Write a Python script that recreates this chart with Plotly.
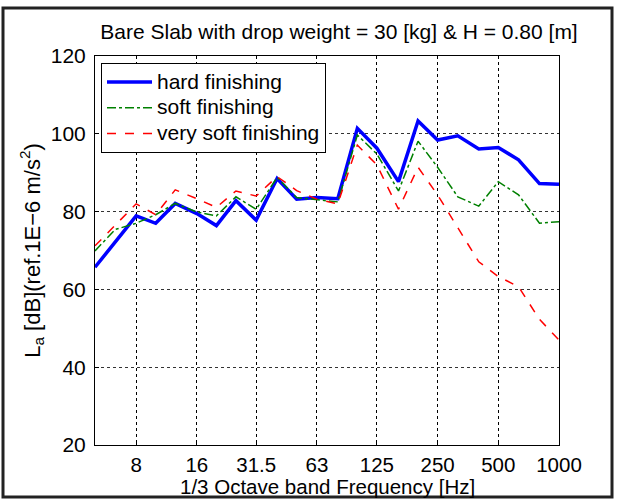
import plotly.graph_objects as go

freqs = [5, 6.3, 8, 10, 12.5, 16, 20, 25, 31.5, 40, 50, 63, 80, 100, 125, 160,
         200, 250, 315, 400, 500, 630, 800, 1000]
hard = [65.7, 72.3, 78.9, 77.0, 82.1, 79.5, 76.4, 82.8, 77.8, 88.5, 83.2, 83.6,
        83.3, 101.4, 96.3, 87.7, 103.3, 98.4, 99.5, 96.1, 96.5, 93.3, 87.2, 87.0]
soft = [69.9, 75.4, 77.0, 79.2, 82.1, 79.9, 78.9, 83.8, 80.6, 88.8, 83.6, 83.0,
        82.5, 99.7, 94.8, 85.3, 98.1, 91.4, 83.8, 81.4, 87.7, 84.3, 77.0, 77.4]
very_soft = [71.2, 76.5, 82.0, 79.2, 85.6, 83.3, 81.1, 85.3, 84.0, 89.0, 85.4, 83.2,
             82.0, 97.1, 92.0, 80.6, 91.4, 84.3, 75.7, 67.1, 63.3, 60.7, 52.3, 47.0]
series_names = ["hard finishing", "soft finishing", "very soft finishing"]
tick_vals = [8, 16, 31.5, 63, 125, 250, 500, 1000]
tick_text = ["8", "16", "31.5", "63", "125", "250", "500", "1000"]
y_ticks = [20, 40, 60, 80, 100, 120]

FONT = "Liberation Sans, Arial, Helvetica, sans-serif"
LEG_FS = 21


def leg_name(s):
    return '<span style="font-size:%dpx">%s</span>' % (LEG_FS, s)


fig = go.Figure()
fig.add_trace(go.Scatter(x=freqs, y=hard, mode="lines", name=leg_name(series_names[0]),
                         line=dict(color="#0000ff", width=3.5)))
fig.add_trace(go.Scatter(x=freqs, y=soft, mode="lines", name=leg_name(series_names[1]),
                         line=dict(color="#008000", width=1.5, dash="dashdot")))
fig.add_trace(go.Scatter(x=freqs, y=very_soft, mode="lines", name=leg_name(series_names[2]),
                         line=dict(color="#ff0000", width=1.5, dash="dash")))

W, H = 617, 499
L, R, T, B = 95, 58, 56, 54
pw, ph = W - L - R, H - T - B


def px(xp):
    return (xp - L) / pw


def py(yp):
    return (H - B - yp) / ph


fig.update_layout(
    width=W, height=H,
    margin=dict(l=L, r=R, t=T, b=B),
    paper_bgcolor="white", plot_bgcolor="white",
    font=dict(family=FONT, size=21, color="black"),
    title=dict(text="Bare Slab with drop weight = 30 [kg] & H = 0.80 [m]",
               x=px(339), xref="paper", xanchor="center",
               y=1 - 32 / H, yref="container", yanchor="middle",
               font=dict(size=21)),
    showlegend=True,
    legend=dict(x=px(101), y=py(63), xanchor="left", yanchor="top",
                bgcolor="white", bordercolor="black", borderwidth=1,
                font=dict(size=17.5), itemwidth=45, tracegroupgap=0),
    xaxis=dict(type="log", range=[0.69897, 3.0], tickvals=tick_vals, ticktext=tick_text,
               showgrid=True, gridcolor="black", griddash="dot", gridwidth=1,
               showline=True, linecolor="black", linewidth=1, mirror=True,
               ticks="inside", ticklen=4, tickcolor="black", zeroline=False,
               ticklabelstandoff=1, tickfont=dict(size=20.5)),
    yaxis=dict(range=[20, 120], tickvals=y_ticks,
               showgrid=True, gridcolor="#333", griddash="dot", gridwidth=1,
               showline=True, linecolor="black", linewidth=1, mirror=True,
               ticks="inside", ticklen=4, tickcolor="black", zeroline=False,
               ticklabelstandoff=4,
               title=dict(text="L<sub>a</sub> [dB](ref.1E\u22126 m/s<sup>2</sup>)", standoff=4,
                          font=dict(size=22))),
    annotations=[dict(text="1/3 Octave band Frequency [Hz]", xref="paper", yref="paper",
                      x=0.5, y=py(486), xanchor="center", yanchor="middle",
                      showarrow=False, font=dict(size=20.5))],
    shapes=[dict(type="rect", xref="paper", yref="paper",
                 x0=px(3), x1=px(612), y0=py(497), y1=py(8),
                 line=dict(color="#222", width=3), fillcolor="rgba(0,0,0,0)",
                 layer="below")],
)

fig.write_html("out.html")
